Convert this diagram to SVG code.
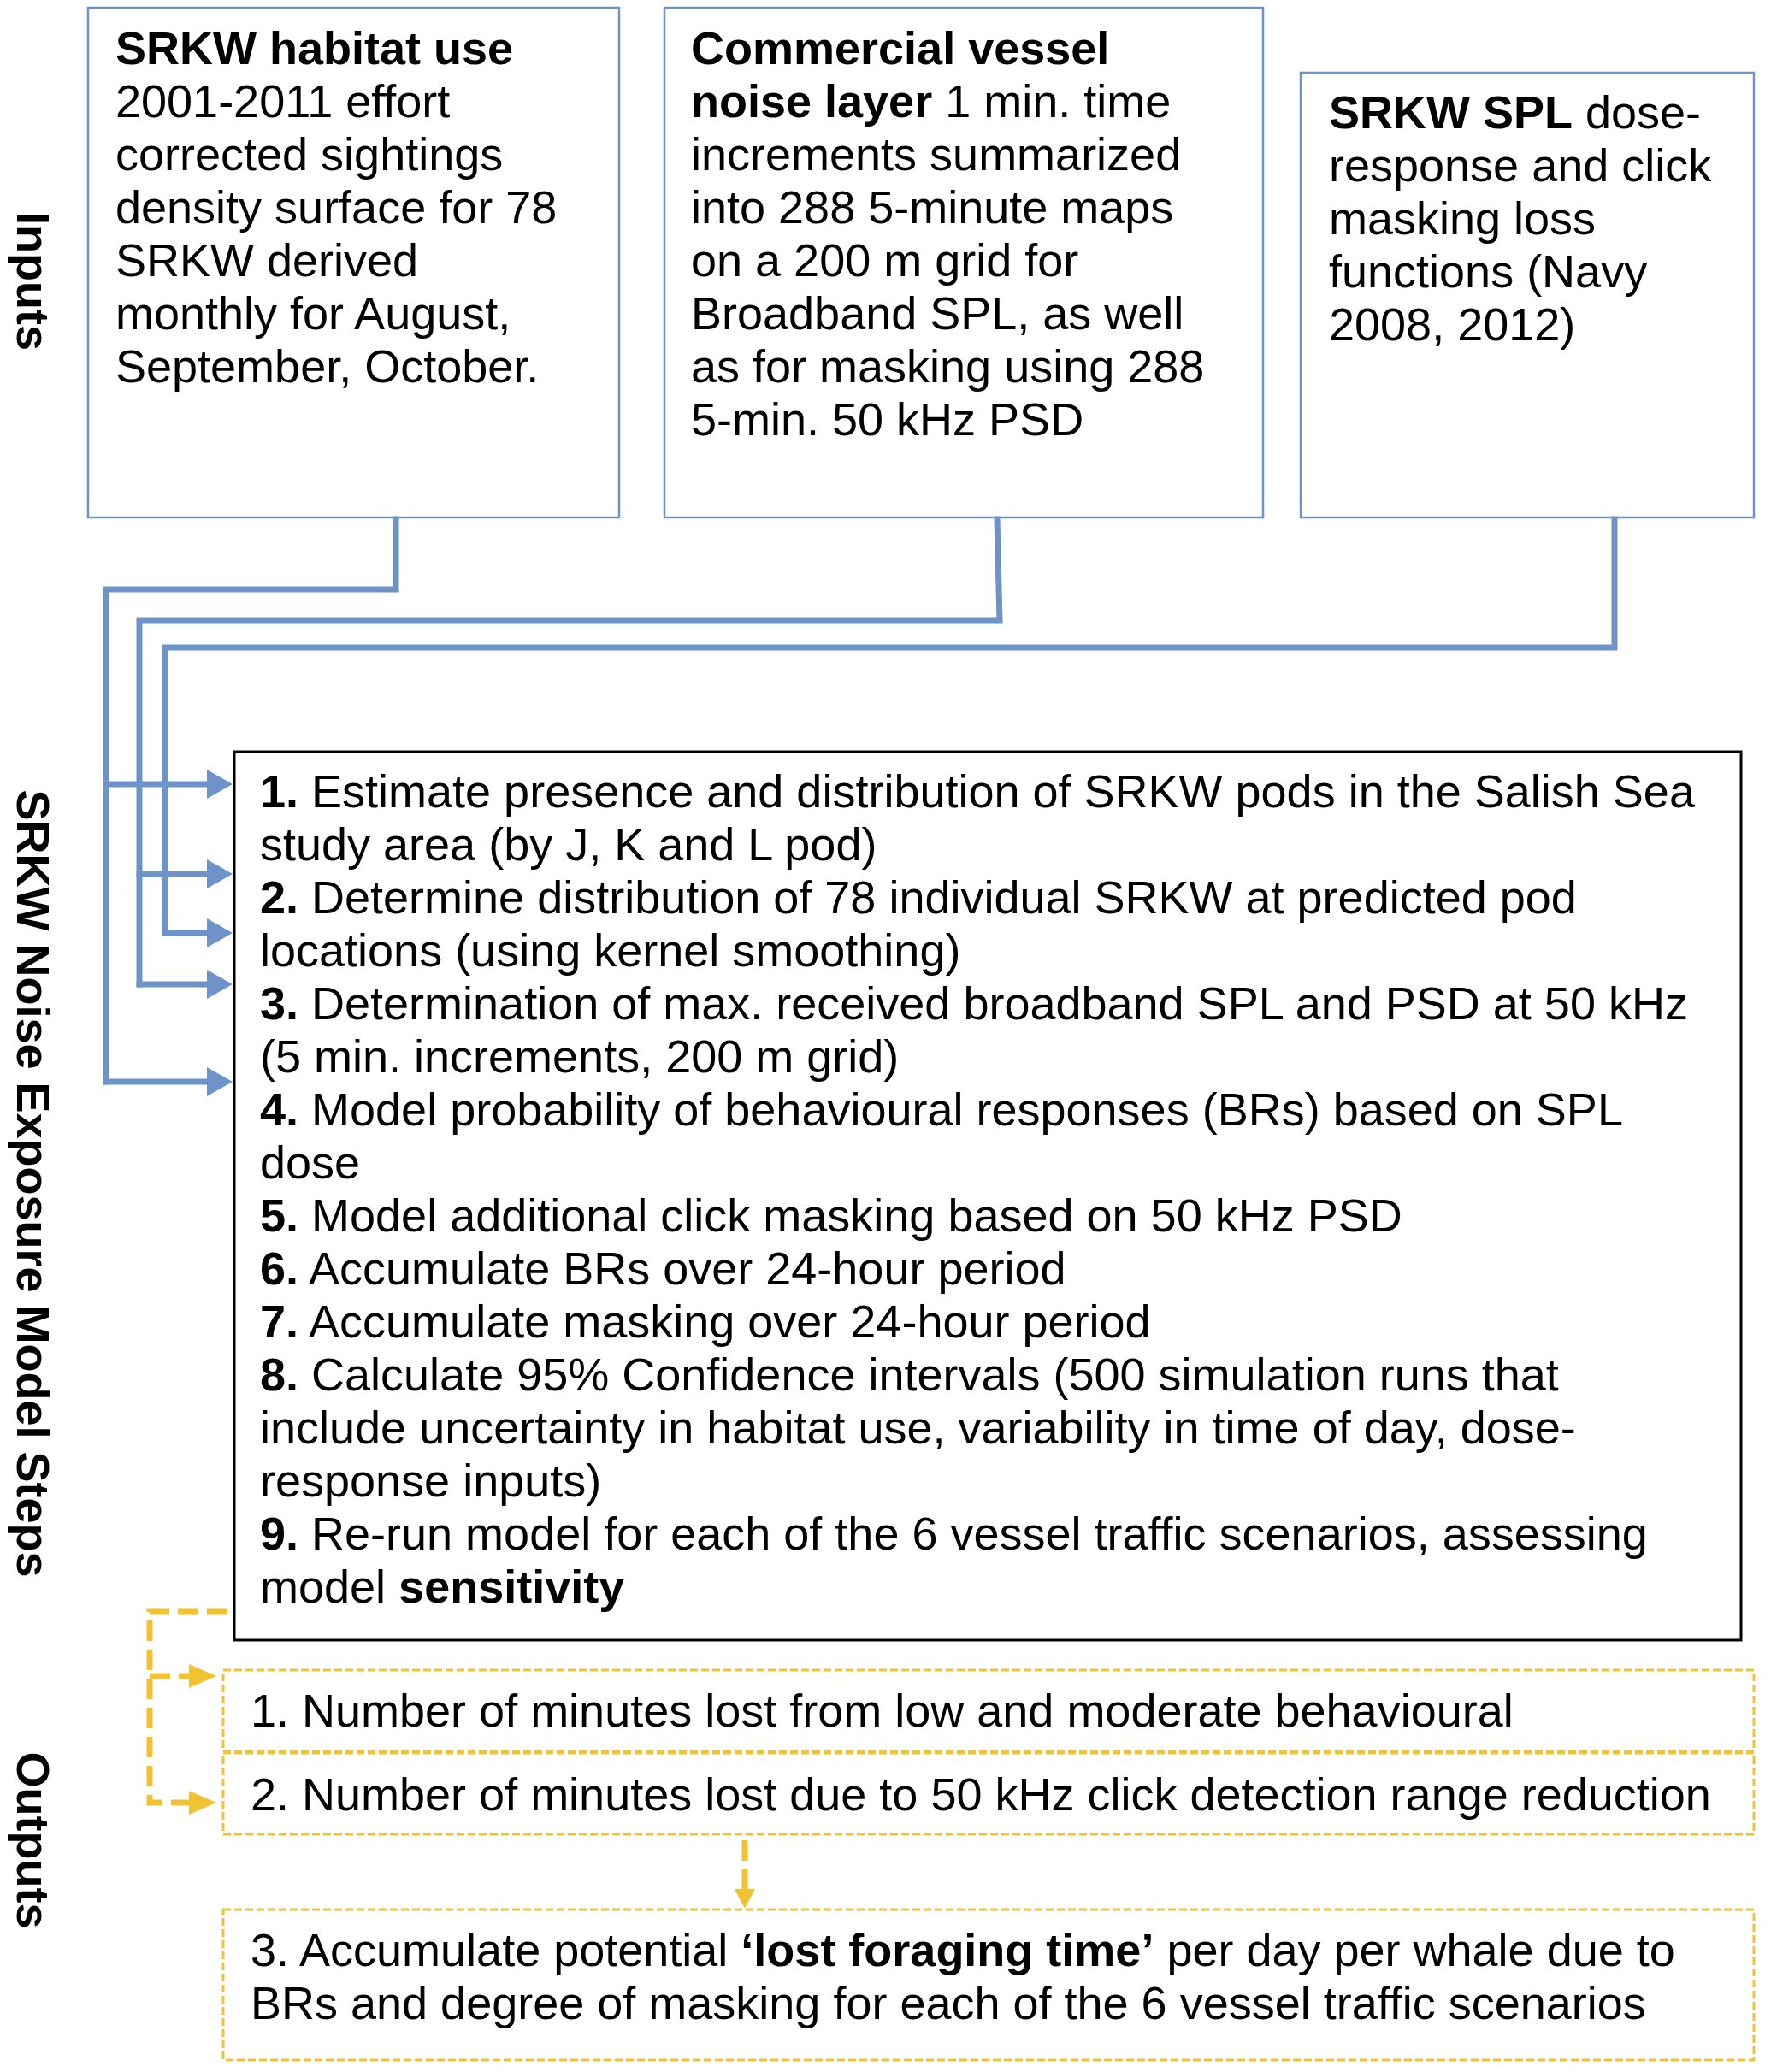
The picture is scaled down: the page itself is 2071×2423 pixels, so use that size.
<svg xmlns="http://www.w3.org/2000/svg" width="2071" height="2423" viewBox="0 0 2071 2423">
<style>
  text { font-family: "Liberation Sans", Arial, Helvetica, sans-serif; font-size: 54px; fill: #000; }
  .b { font-weight: bold; }
  .side { font-weight: bold; font-size: 54px; }
  .inbox { fill: #fff; stroke: #6E93C8; stroke-width: 2.5; }
  .mainbox { fill: #fff; stroke: #000; stroke-width: 3; }
  .outbox { fill: #fff; stroke: #F1C232; stroke-width: 3; stroke-dasharray: 9 4; }
  .blue { fill: none; stroke: #6E93C8; stroke-width: 7; stroke-linecap: square; stroke-linejoin: miter; }
  .yel { fill: none; stroke: #F1C232; stroke-width: 7; stroke-dasharray: 24 10; }
  .bhead { fill: #6E93C8; }
  .yhead { fill: #F1C232; }
</style>
<rect width="2071" height="2423" fill="#fff"/>

<g id="labels">
  <text class="side" text-anchor="middle" transform="translate(20,329) rotate(90)">Inputs</text>
  <text class="side" text-anchor="middle" transform="translate(20,1384) rotate(90)">SRKW Noise Exposure Model Steps</text>
  <text class="side" text-anchor="middle" transform="translate(20,2152) rotate(90)">Outputs</text>
</g>

<g id="input-habitat">
  <rect class="inbox" x="103" y="9" width="621" height="596"/>
  <text x="135" y="75" class="b">SRKW habitat use</text>
  <text x="135" y="137">2001-2011 effort</text>
  <text x="135" y="199">corrected sightings</text>
  <text x="135" y="261">density surface for 78</text>
  <text x="135" y="323">SRKW derived</text>
  <text x="135" y="385">monthly for August,</text>
  <text x="135" y="447">September, October.</text>
</g>

<g id="input-vessel">
  <rect class="inbox" x="777" y="9" width="700" height="596"/>
  <text x="808" y="75" class="b">Commercial vessel</text>
  <text x="808" y="137"><tspan class="b">noise layer</tspan> 1 min. time</text>
  <text x="808" y="199">increments summarized</text>
  <text x="808" y="261">into 288 5-minute maps</text>
  <text x="808" y="323">on a 200 m grid for</text>
  <text x="808" y="385">Broadband SPL, as well</text>
  <text x="808" y="447">as for masking using 288</text>
  <text x="808" y="509">5-min. 50 kHz PSD</text>
</g>

<g id="input-spl">
  <rect class="inbox" x="1521" y="85" width="530" height="520"/>
  <text x="1554" y="150"><tspan class="b">SRKW SPL</tspan> dose-</text>
  <text x="1554" y="212">response and click</text>
  <text x="1554" y="274">masking loss</text>
  <text x="1554" y="336">functions (Navy</text>
  <text x="1554" y="398">2008, 2012)</text>
</g>

<g id="model-steps">
  <rect class="mainbox" x="274" y="879" width="1762" height="1039"/>
  <text x="304" y="944"><tspan class="b">1.</tspan> Estimate presence and distribution of SRKW pods in the Salish Sea</text>
  <text x="304" y="1006">study area (by J, K and L pod)</text>
  <text x="304" y="1068"><tspan class="b">2.</tspan> Determine distribution of 78 individual SRKW at predicted pod</text>
  <text x="304" y="1130">locations (using kernel smoothing)</text>
  <text x="304" y="1192"><tspan class="b">3.</tspan> Determination of max. received broadband SPL and PSD at 50 kHz</text>
  <text x="304" y="1254">(5 min. increments, 200 m grid)</text>
  <text x="304" y="1316"><tspan class="b">4.</tspan> Model probability of behavioural responses (BRs) based on SPL</text>
  <text x="304" y="1378">dose</text>
  <text x="304" y="1440"><tspan class="b">5.</tspan> Model additional click masking based on 50 kHz PSD</text>
  <text x="304" y="1502"><tspan class="b">6.</tspan> Accumulate BRs over 24-hour period</text>
  <text x="304" y="1564"><tspan class="b">7.</tspan> Accumulate masking over 24-hour period</text>
  <text x="304" y="1626"><tspan class="b">8.</tspan> Calculate 95% Confidence intervals (500 simulation runs that</text>
  <text x="304" y="1688">include uncertainty in habitat use, variability in time of day, dose-</text>
  <text x="304" y="1750">response inputs)</text>
  <text x="304" y="1812"><tspan class="b">9.</tspan> Re-run model for each of the 6 vessel traffic scenarios, assessing</text>
  <text x="304" y="1874">model <tspan class="b">sensitivity</tspan></text>
</g>

<g id="output-1">
  <rect class="outbox" x="261" y="1953" width="1790" height="95"/>
  <text x="293" y="2019">1. Number of minutes lost from low and moderate behavioural</text>
</g>
<g id="output-2">
  <rect class="outbox" x="261" y="2050" width="1790" height="95"/>
  <text x="293" y="2117">2. Number of minutes lost due to 50 kHz click detection range reduction</text>
</g>
<g id="output-3">
  <rect class="outbox" x="261" y="2233" width="1790" height="176"/>
  <text x="293" y="2299">3. Accumulate potential <tspan class="b">‘lost foraging time’</tspan> per day per whale due to</text>
  <text x="293" y="2361">BRs and degree of masking for each of the 6 vessel traffic scenarios</text>
</g>

<g id="connectors">
  <!-- habitat use -->
  <path class="blue" d="M463,607 V689 H124 V1265"/>
  <path class="blue" d="M124,917 H245"/>
  <path class="blue" d="M124,1265 H245"/>
  <!-- vessel noise -->
  <path class="blue" d="M1166,607 L1169,726 H163 V1151"/>
  <path class="blue" d="M163,1022 H245"/>
  <path class="blue" d="M163,1151 H245"/>
  <!-- SPL dose response -->
  <path class="blue" d="M1888,607 V757 H193 V1091"/>
  <path class="blue" d="M193,1091 H245"/>
  <polygon class="bhead" points="242,900 272,917 242,934"/>
  <polygon class="bhead" points="242,1005 272,1022 242,1039"/>
  <polygon class="bhead" points="242,1074 272,1091 242,1108"/>
  <polygon class="bhead" points="242,1134 272,1151 242,1168"/>
  <polygon class="bhead" points="242,1248 272,1265 242,1282"/>
  <!-- outputs -->
  <path class="yel" d="M266,1884 H175 V2108 H224"/>
  <path class="yel" d="M175,1960 H224"/>
  <polygon class="yhead" points="221,1946 253,1960 221,1974"/>
  <polygon class="yhead" points="221,2094 253,2108 221,2122"/>
  <path class="yel" d="M871,2152 V2212"/>
  <polygon class="yhead" points="859,2209 883,2209 871,2232"/>
</g>
</svg>
